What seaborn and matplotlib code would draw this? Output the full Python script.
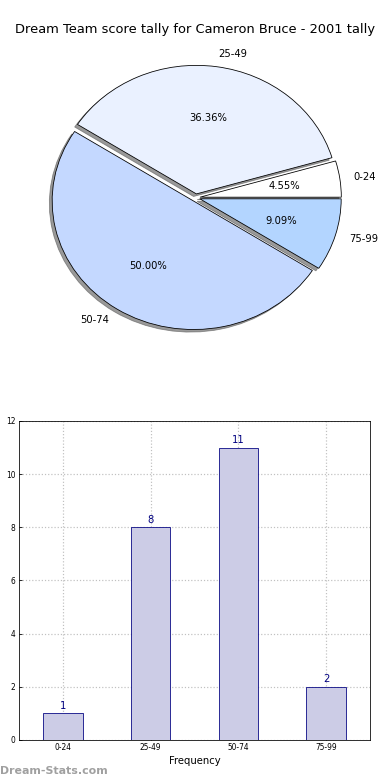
import matplotlib
matplotlib.use("Agg")
import matplotlib.pyplot as plt
import seaborn as sns
import pandas as pd

# score intervals and how often each came up
intervals = ["0-24", "25-49", "50-74", "75-99"]
counts = [1, 8, 11, 2]
pie_colors = ["#ffffff", "#eaf1ff", "#c4d8ff", "#b3d5ff"]
explode = [0.03, 0.03, 0.03, 0.03]

title = "Dream Team score tally for Cameron Bruce - 2001 tally"

fig = plt.figure(figsize=(390 / 72, 780 / 72), dpi=72)

# Pie chart
ax1 = fig.add_axes([0.049, 0.5405, 0.906, 0.412])
ax1.pie(counts, labels=intervals, colors=pie_colors, explode=explode,
        autopct="%1.2f%%", shadow={"color": "#555555", "alpha": 0.6},
        startangle=0,
        wedgeprops={"edgecolor": "black", "linewidth": 0.8},
        textprops={"fontsize": 10})
ax1.set_aspect("auto")
ax1.set_xlim(-1.25, 1.25)
ax1.set_ylim(-1.25, 1.25)
fig.text(0.5, 0.962, title, ha="center", va="center", fontsize=13)

# Bar chart
df = pd.DataFrame({"interval": intervals, "count": counts})
ax2 = fig.add_axes([0.0487, 0.0513, 0.9, 0.409])
sns.barplot(data=df, x="interval", y="count", color="#ccccE6",
            edgecolor="navy", linewidth=0.8, width=0.45, saturation=1, ax=ax2)
for i, c in enumerate(counts):
    ax2.text(i, c + 0.1, str(c), ha="center", va="bottom", color="navy", fontsize=10)
ax2.set_ylim(0, 12)
ax2.set_xlim(-0.5, 3.5)
ax2.set_yticks(range(0, 13, 2))
ax2.tick_params(labelsize=7.5, direction="in", length=3)
ax2.grid(True, linestyle=":", color="#c0c0c0", linewidth=1.2)
ax2.set_axisbelow(True)
ax2.set_xlabel("Frequency", fontsize=10)
ax2.set_ylabel("Score Interval", fontsize=10, labelpad=12)

fig.text(0.0, 0.012, "Dream-Stats.com", ha="left", va="center",
         fontsize=11, fontweight="bold", color="#a0a0a0")

fig.savefig("out.png", dpi=72)
